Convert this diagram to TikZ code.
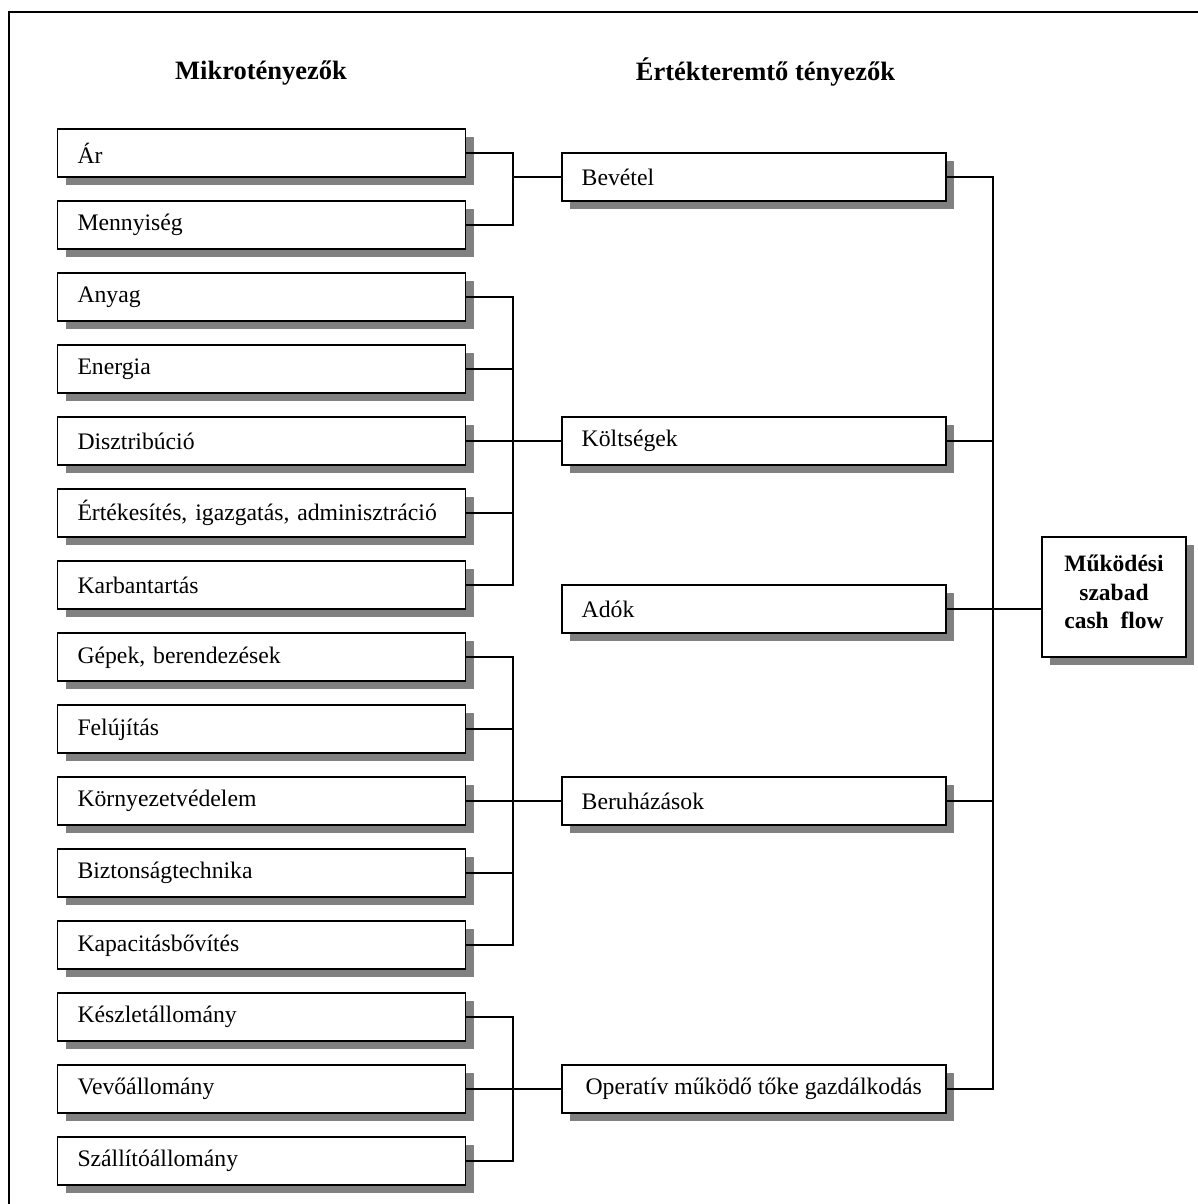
\documentclass[tikz,border=0pt]{standalone}
\usepackage{fontspec}
\setmainfont{Liberation Serif}
\usetikzlibrary{shadows}
\definecolor{shadowgray}{RGB}{128,128,128}
\newcommand{\txtbody}{\fontsize{23.7pt}{28pt}\selectfont}
\newcommand{\txthead}{\fontsize{26.5pt}{30pt}\selectfont\bfseries}
\newcommand{\txtresult}{\fontsize{23.5pt}{28.5pt}\selectfont\bfseries}
\begin{document}
\begin{tikzpicture}[x=1pt,y=-1pt,line width=1.8pt,
  boxshadow/.style={drop shadow={shadow xshift=8pt,shadow yshift=-8pt,fill=shadowgray,opacity=1}},
  basebox/.style={draw,fill=white,boxshadow,minimum height=48pt,inner xsep=0pt,inner ysep=0pt,font=\txtbody},
  microbox/.style={basebox,minimum width=408pt,text width=368pt,align=left},
  driverbox/.style={basebox,minimum width=384pt,text width=344pt,align=left},
  widebox/.style={basebox,minimum width=384pt},
  resultbox/.style={draw,fill=white,boxshadow,minimum width=144pt,minimum height=120pt,inner sep=0pt,text depth=10pt,align=center,font=\txtresult},
  header/.style={font=\txthead,inner sep=0pt},
  wire/.style={line width=1.8pt}]
  \useasboundingbox (0,0) rectangle (1198,1204);

  % frame (only its top and left sides fall on the page)
  \draw[line width=2.4pt] (9,1210) -- (9,12) -- (1205,12);

  % column headings
  \node[header] (h1) at (261,73) {Mikrotényezők};
  \node[header] (h2) at (765.5,72) {Értékteremtő tényezők};

  % micro factors
  \node[microbox] (r0)  at (261.5,153.3)  {Ár};
  \node[microbox] (r1)  at (261.5,225.3)  {Mennyiség};
  \node[microbox] (r2)  at (261.5,297.3)  {Anyag};
  \node[microbox] (r3)  at (261.5,369.3)  {Energia};
  \node[microbox] (r4)  at (261.5,441.3)  {Disztribúció};
  \node[microbox] (r5)  at (261.5,513.3)  {Értékesítés, igazgatás, adminisztráció};
  \node[microbox] (r6)  at (261.5,585.3)  {Karbantartás};
  \node[microbox] (r7)  at (261.5,657.3)  {Gépek, berendezések};
  \node[microbox] (r8)  at (261.5,729.3)  {Felújítás};
  \node[microbox] (r9)  at (261.5,801.3)  {Környezetvédelem};
  \node[microbox] (r10) at (261.5,873.3)  {Biztonságtechnika};
  \node[microbox] (r11) at (261.5,945.3)  {Kapacitásbővítés};
  \node[microbox] (r12) at (261.5,1017.3) {Készletállomány};
  \node[microbox] (r13) at (261.5,1089.3) {Vevőállomány};
  \node[microbox] (r14) at (261.5,1161.3) {Szállítóállomány};

  % value drivers
  \node[driverbox] (bev)  at (753.7,177.3)  {Bevétel};
  \node[driverbox] (kolt) at (753.7,441.3)  {Költségek};
  \node[driverbox] (adok) at (753.7,609.3)  {Adók};
  \node[driverbox] (ber)  at (753.7,801.3)  {Beruházások};
  \node[widebox]   (op)   at (753.7,1089.3) {Operatív működő tőke gazdálkodás};

  % result
  \node[resultbox] (cf) at (1114,597) {Működési\\szabad\\cash\ \ flow};

  % bus junctions
  \coordinate (busA) at (513.3,177.3);
  \coordinate (busB) at (513.3,441.3);
  \coordinate (busC) at (513.3,801.3);
  \coordinate (busD) at (513.3,1089.3);
  \coordinate (rbus) at (993.3,609.3);

  % micro factors -> value drivers
  \draw[wire] (r0.east) -| (busA) |- (r1.east);
  \draw[wire] (busA) -- (bev.west);

  \draw[wire] (r2.east) -| (busB) |- (r6.east);
  \draw[wire] (r3.east) -- (r3.east -| busB);
  \draw[wire] (r5.east) -- (r5.east -| busB);
  \draw[wire] (r4.east) -- (busB) -- (kolt.west);

  \draw[wire] (r7.east) -| (busC) |- (r11.east);
  \draw[wire] (r8.east) -- (r8.east -| busC);
  \draw[wire] (r10.east) -- (r10.east -| busC);
  \draw[wire] (r9.east) -- (busC) -- (ber.west);

  \draw[wire] (r12.east) -| (busD) |- (r14.east);
  \draw[wire] (r13.east) -- (busD) -- (op.west);

  % value drivers -> free cash flow
  \draw[wire] (bev.east) -| (rbus) |- (op.east);
  \draw[wire] (kolt.east) -- (kolt.east -| rbus);
  \draw[wire] (ber.east) -- (ber.east -| rbus);
  \draw[wire] (adok.east) -- (rbus) -- (cf.west |- rbus);
\end{tikzpicture}
\end{document}
